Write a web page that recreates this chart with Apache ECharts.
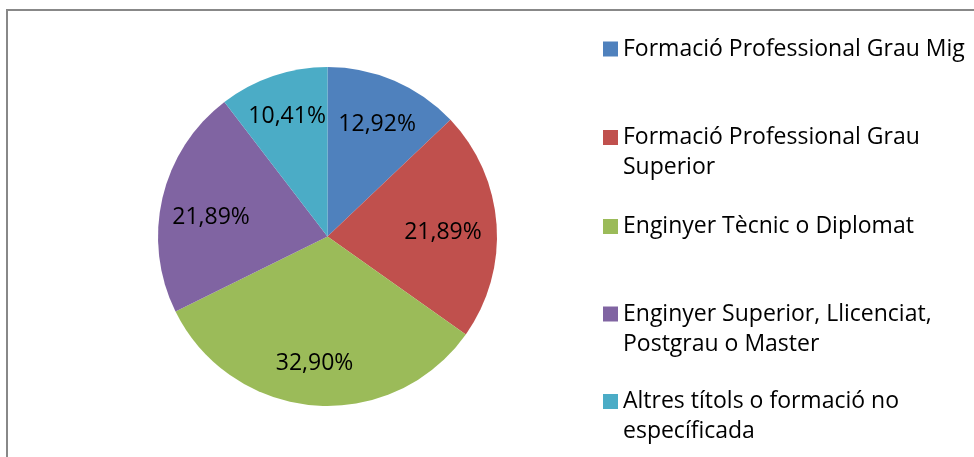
<!DOCTYPE html>
<html>
<head>
<meta charset="utf-8">
<script src="https://cdn.jsdelivr.net/npm/echarts@6/dist/echarts.min.js"></script>
<style>
  html, body { margin: 0; padding: 0; background: #fff; }
  #frame { position: absolute; left: 6px; top: 9px; width: 968px; height: 448px;
           border-top: 2px solid #888; border-left: 2px solid #888; }
  #chart { position: absolute; left: 0; top: 0; width: 974px; height: 457px; }
</style>
</head>
<body>
<div id="frame"></div>
<div id="chart"></div>
<script>
// categories and shares (%)
const categories = [
  'Formació Professional Grau Mig',
  'Formació Professional Grau Superior',
  'Enginyer Tècnic o Diplomat',
  'Enginyer Superior, Llicenciat, Postgrau o Master',
  'Altres títols o formació no específicada'
];
const values = [12.92, 21.89, 32.90, 21.89, 10.41];
const colors = ['#4F81BD', '#C0504D', '#9BBB59', '#8064A2', '#4BACC6'];

// legend lines, wrapped like the original
const legendLines = [
  ['Formació Professional Grau Mig'],
  ['Formació Professional Grau', 'Superior'],
  ['Enginyer Tècnic o Diplomat'],
  ['Enginyer Superior, Llicenciat,', 'Postgrau o Master'],
  ['Altres títols o formació no', 'específicada']
];

const FONT = '"Open Sans", sans-serif';
const FS = 23;
const LH = 30;
// y of the first text line / legend square of each entry
const legendY = [49, 137.5, 226.5, 314, 401.5];
// small nudges so labels sit where Excel put them
const labelNudge = [[0, 3], [-10, 5], [-3, 2], [6, 10], [0, -1]];

const chart = echarts.init(document.getElementById('chart'));

const legends = categories.map((c, i) => {
  const lines = legendLines[i];
  // a blank line in front keeps the square beside the first line
  const text = lines.length > 1 ? '\n' + lines.join('\n') : lines[0];
  const h = lines.length > 1 ? LH * 3 : LH;
  return {
    orient: 'vertical',
    left: 603,
    top: legendY[i] - h / 2,
    padding: 0,
    icon: 'rect',
    itemWidth: 15,
    itemHeight: 15,
    itemGap: 0,
    selectedMode: false,
    data: [c],
    formatter: () => text,
    textStyle: { fontFamily: FONT, fontSize: FS, color: '#000', lineHeight: LH }
  };
});

chart.setOption({
  animation: false,
  color: colors,
  legend: legends,
  series: [
    {
      type: 'pie',
      center: [327.5, 236.5],
      radius: [0, 169.5],
      startAngle: 90,
      clockwise: true,
      silent: true,
      label: { show: false },
      labelLine: { show: false },
      itemStyle: { borderWidth: 0 },
      data: categories.map((c, i) => ({ name: c, value: values[i] }))
    },
    {
      // transparent ring only used to place the percentage labels at ~0.72r
      type: 'pie',
      center: [327.5, 236.5],
      radius: [76, 169.5],
      startAngle: 90,
      clockwise: true,
      silent: true,
      itemStyle: { color: 'rgba(0,0,0,0)', borderWidth: 0 },
      label: {
        show: true,
        position: 'inside',
        fontFamily: FONT,
        fontSize: FS,
        color: '#000',
        formatter: (p) => p.value.toFixed(2).replace('.', ',') + '%'
      },
      labelLine: { show: false },
      data: categories.map((c, i) => ({
        name: c,
        value: values[i],
        label: { offset: labelNudge[i] }
      }))
    }
  ]
});
</script>
</body>
</html>
